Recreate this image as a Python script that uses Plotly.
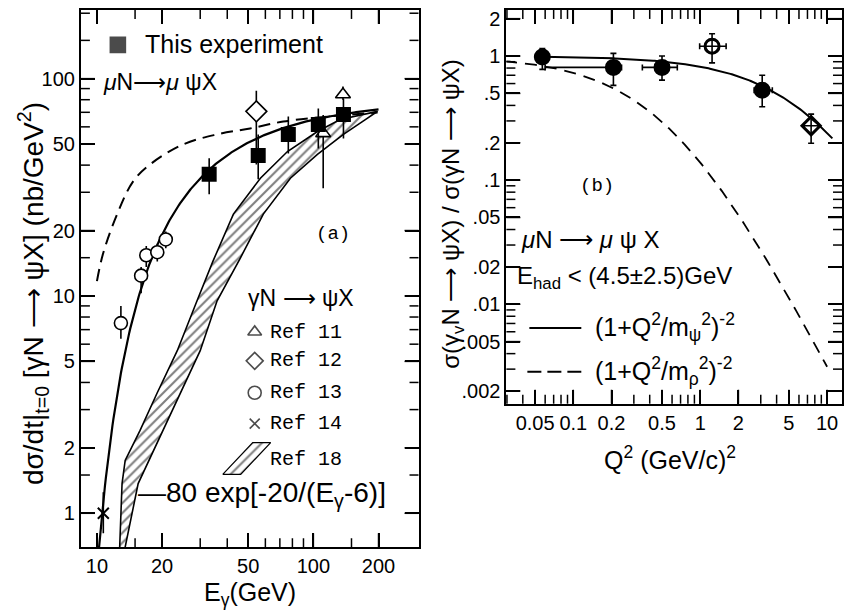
import numpy as np
import plotly.graph_objects as go

# ---------------- Panel (a): dsigma/dt|t=0 for gamma N -> psi X ----------------
e_this = [33.0, 55.6, 76.6, 105.4, 137.7]
xs_this = [36.3, 44.3, 55.4, 61.5, 68.4]
xs_this_hi = [43.0, 55.4, 67.0, 72.8, 80.9]
xs_this_lo = [29.4, 34.4, 45.3, 47.7, 53.1]

e_ref11 = [111.0, 137.0]
xs_ref11 = [56.0, 84.5]
xs_ref11_hi = [68.0, 92.0]
xs_ref11_lo = [31.3, 80.0]

e_ref12 = [54.5]
xs_ref12 = [70.7]
xs_ref12_hi = [88.0]
xs_ref12_lo = [40.3]

e_ref13 = [12.9, 16.0, 16.9, 19.0, 20.8]
xs_ref13 = [7.5, 12.4, 15.4, 15.9, 18.2]
xs_ref13_hi = [9.0, 13.6, 17.0, 17.4, 19.8]
xs_ref13_lo = [6.35, 10.3, 13.6, 14.4, 16.6]

e_ref14 = [10.7]
xs_ref14 = [1.0]
xs_ref14_hi = [1.25]
xs_ref14_lo = [0.81]

# Ref 18 band: upper and lower edges
band_up_e = [12.7, 13.06, 13.5, 15.8, 18.9, 23.5, 29.0, 34.4, 42.7, 56.9, 75.9, 104.4, 133.0, 198.0]
band_up_xs = [0.65, 1.37, 1.75, 2.40, 3.55, 5.6, 9.5, 14.5, 23.8, 34.8, 46.2, 57.1, 64.9, 70.7]
band_lo_e = [13.3, 15.5, 20.2, 30.0, 35.9, 45.9, 58.7, 78.3, 104.4, 137.7, 198.0]
band_lo_xs = [0.65, 1.37, 2.40, 5.6, 9.5, 14.9, 23.8, 34.8, 44.8, 55.4, 70.7]

# dashed model curve
dash_e = [10.0, 10.66, 12.4, 14.7, 17.6, 25.0, 35.9, 51.0, 72.6, 104.0, 198.0]
dash_xs = [11.7, 15.6, 23.8, 33.7, 40.3, 49.8, 55.4, 59.0, 63.5, 66.2, 69.8]

# fit: 80 exp[-20/(E - 6)]
fit_norm, fit_slope, fit_thr = 80.0, 20.0, 6.0
fit_e_min, fit_e_max = 10.15, 200.0

# ---------------- Panel (b): virtual / real photoproduction ratio ----------------
q2 = [0.057, 0.207, 0.50, 1.24, 3.08, 7.48]
q2_lo = [0.057, 0.06, 0.35, 0.99, 2.66, 6.6]
q2_hi = [0.057, 0.24, 0.66, 1.60, 3.70, 8.5]
ratio = [0.98, 0.81, 0.81, 1.20, 0.53, 0.274]
ratio_hi = [1.15, 1.05, 1.00, 1.51, 0.70, 0.34]
ratio_lo = [0.78, 0.58, 0.64, 0.88, 0.39, 0.198]
ratio_symbols = ["circle", "circle", "circle", "circle-open", "circle", "diamond-open"]

m_psi, m_rho = 3.097, 0.77
psi_q2_range = (0.057, 11.0)
rho_q2_range = (0.029, 10.0)

# tick definitions
a_x_major = [10, 20, 50, 100, 200]
a_x_minor = [15, 30, 40, 60, 70, 80, 90, 150]
a_y_major = [1, 2, 5, 10, 20, 50, 100]
a_y_minor = [1.5, 3, 4, 6, 7, 8, 9, 15, 30, 40, 60, 70, 80, 90, 150, 200]
b_x_major = [0.05, 0.1, 0.2, 0.5, 1, 2, 5, 10]
b_x_labels = ["0.05", "0.1", "0.2", "0.5", "1", "2", "5", "10"]
b_x_minor = [0.03, 0.04, 0.06, 0.07, 0.08, 0.09, 0.3, 0.4, 0.6, 0.7, 0.8, 0.9, 3, 4, 6, 7, 8, 9]
b_y_major = [0.002, 0.005, 0.01, 0.02, 0.05, 0.1, 0.2, 0.5, 1, 2]
b_y_labels = [".002", ".005", ".01", ".02", ".05", ".1", ".2", ".5", "1", "2"]
b_y_minor = [0.003, 0.004, 0.006, 0.007, 0.008, 0.009, 0.03, 0.04, 0.06, 0.07,
             0.08, 0.09, 0.3, 0.4, 0.6, 0.7, 0.8, 0.9]

W, H = 844, 616
SANS = "Liberation Sans, Arial, sans-serif"
MONO = "Liberation Mono, Courier New, monospace"
INK = "black"

# panel frames in pixels (left, right, top, bottom)
A_BOX = (81, 419, 8, 547)
B_BOX = (507, 843, 8, 403)
A_X_RANGE = [np.log10(8.43), np.log10(306)]
A_Y_RANGE = [np.log10(0.698), np.log10(207)]
B_X_RANGE = [np.log10(0.0297), np.log10(13.1)]
B_Y_RANGE = [np.log10(0.00158), np.log10(2.35)]
MAJOR_LEN, MINOR_LEN = 14, 9


def errs(val, hi, lo):
    return dict(type="data", symmetric=False,
                array=[h - v for v, h in zip(val, hi)],
                arrayminus=[v - l for v, l in zip(val, lo)])


fig = go.Figure()

# Ref 18 hatched band
band_x = band_up_e + band_lo_e[::-1]
band_y = band_up_xs + band_lo_xs[::-1]
fig.add_trace(go.Scatter(x=band_x, y=band_y, mode="lines", fill="toself",
                         fillcolor="white",
                         fillpattern=dict(shape="/", fgcolor=INK, bgcolor="white",
                                          size=7, solidity=0.3),
                         line=dict(color=INK, width=1.6), xaxis="x", yaxis="y"))

# dashed model
fig.add_trace(go.Scatter(x=dash_e, y=dash_xs, mode="lines", line_shape="spline",
                         line=dict(color=INK, width=2, dash="12px,7px"),
                         xaxis="x", yaxis="y"))

# 80 exp[-20/(E-6)]
fit_e = np.geomspace(fit_e_min, fit_e_max, 300)
fit_xs = fit_norm * np.exp(-fit_slope / (fit_e - fit_thr))
fig.add_trace(go.Scatter(x=fit_e, y=fit_xs, mode="lines",
                         line=dict(color=INK, width=2.2), xaxis="x", yaxis="y"))

# reference data sets
ebar = dict(color=INK, thickness=1.6, width=0)
fig.add_trace(go.Scatter(x=e_ref11, y=xs_ref11, mode="markers",
                         error_y={**errs(xs_ref11, xs_ref11_hi, xs_ref11_lo), **ebar},
                         marker=dict(symbol="triangle-up", size=13, color="white",
                                     line=dict(color=INK, width=1.6)),
                         xaxis="x", yaxis="y"))
fig.add_trace(go.Scatter(x=e_ref12, y=xs_ref12, mode="markers",
                         error_y={**errs(xs_ref12, xs_ref12_hi, xs_ref12_lo), **ebar},
                         marker=dict(symbol="diamond", size=16, color="white",
                                     line=dict(color=INK, width=1.6)),
                         xaxis="x", yaxis="y"))
fig.add_trace(go.Scatter(x=e_ref13, y=xs_ref13, mode="markers",
                         error_y={**errs(xs_ref13, xs_ref13_hi, xs_ref13_lo), **ebar},
                         marker=dict(symbol="circle", size=13, color="white",
                                     line=dict(color=INK, width=1.6)),
                         xaxis="x", yaxis="y"))
fig.add_trace(go.Scatter(x=e_ref14, y=xs_ref14, mode="markers",
                         error_y={**errs(xs_ref14, xs_ref14_hi, xs_ref14_lo), **ebar},
                         marker=dict(symbol="x-thin", size=11,
                                     line=dict(color=INK, width=2)),
                         xaxis="x", yaxis="y"))
fig.add_trace(go.Scatter(x=e_this, y=xs_this, mode="markers",
                         error_y={**errs(xs_this, xs_this_hi, xs_this_lo), **ebar},
                         marker=dict(symbol="square", size=15, color=INK),
                         xaxis="x", yaxis="y"))

# ---------------- panel (b) traces ----------------
q_psi = np.geomspace(*psi_q2_range, 200)
q_rho = np.geomspace(*rho_q2_range, 200)
fig.add_trace(go.Scatter(x=q_rho, y=(1 + q_rho / m_rho ** 2) ** -2, mode="lines",
                         line=dict(color=INK, width=1.8, dash="12px,8px"),
                         xaxis="x2", yaxis="y2"))
fig.add_trace(go.Scatter(x=q_psi, y=(1 + q_psi / m_psi ** 2) ** -2, mode="lines",
                         line=dict(color=INK, width=2), xaxis="x2", yaxis="y2"))
fig.add_trace(go.Scatter(x=q2, y=ratio, mode="markers",
                         error_y=dict(**errs(ratio, ratio_hi, ratio_lo), color=INK,
                                      thickness=1.6, width=3),
                         error_x=dict(**errs(q2, q2_hi, q2_lo), color=INK,
                                      thickness=1.6, width=3),
                         marker=dict(symbol=ratio_symbols, size=14, color=INK,
                                     line=dict(color=INK, width=3)),
                         xaxis="x2", yaxis="y2"))


# inward minor/major tick marks on all four sides of a frame, as paper-referenced
# line shapes placed along each panel's log scale
def tick_shapes(box, xrng, yrng, xvals, yvals, length):
    left, right, top, bottom = box
    out = []
    line = dict(color=INK, width=1.5)

    def fx(p):
        return p / W

    def fy(p):
        return 1 - p / H

    for v in xvals:
        p = float(left + (np.log10(v) - xrng[0]) / (xrng[1] - xrng[0]) * (right - left))
        for y0, y1 in ((bottom, bottom - length), (top, top + length)):
            out.append(dict(type="line", xref="paper", yref="paper", layer="above",
                            x0=fx(p), x1=fx(p), y0=fy(y0), y1=fy(y1), line=line))
    for v in yvals:
        p = float(bottom - (np.log10(v) - yrng[0]) / (yrng[1] - yrng[0]) * (bottom - top))
        for x0, x1 in ((left, left + length), (right - length, right)):
            out.append(dict(type="line", xref="paper", yref="paper", layer="above",
                            x0=fx(x0), x1=fx(x1), y0=fy(p), y1=fy(p), line=line))
    return out


shapes = (tick_shapes(A_BOX, A_X_RANGE, A_Y_RANGE, a_x_minor, a_y_minor, MINOR_LEN)
          + tick_shapes(B_BOX, B_X_RANGE, B_Y_RANGE, b_x_minor, b_y_minor, MINOR_LEN)
          + tick_shapes(A_BOX, A_X_RANGE, A_Y_RANGE, a_x_major, a_y_major, MAJOR_LEN)
          + tick_shapes(B_BOX, B_X_RANGE, B_Y_RANGE, b_x_major, b_y_major, MAJOR_LEN))

# ---------------- legend keys drawn on the pixel overlay ----------------
key_sym = ["square", "triangle-up-open", "diamond-open", "circle-open", "x-thin"]
key_x = [118, 255, 255, 255, 255]
key_y = [43, 331, 360, 392, 423]
key_size = [15, 12, 13, 13, 10]
fig.add_trace(go.Scatter(x=key_x, y=key_y, mode="markers",
                         marker=dict(symbol=key_sym, size=key_size, color=INK,
                                     line=dict(color=INK, width=1.6)),
                         xaxis="x3", yaxis="y3"))
# Ref 18 hatched key
fig.add_trace(go.Scatter(x=[223, 241, 271, 253, 223], y=[474, 474, 442, 442, 474],
                         mode="lines", fill="toself", fillcolor="white",
                         fillpattern=dict(shape="/", fgcolor=INK, bgcolor="white",
                                          size=7, solidity=0.3),
                         line=dict(color=INK, width=1.2), xaxis="x3", yaxis="y3"))
# solid / dashed keys in panel (b)
fig.add_trace(go.Scatter(x=[530, 582], y=[327, 327], mode="lines",
                         line=dict(color=INK, width=2), xaxis="x3", yaxis="y3"))
fig.add_trace(go.Scatter(x=[528, 582], y=[371, 371], mode="lines",
                         line=dict(color=INK, width=2, dash="14px,6px"),
                         xaxis="x3", yaxis="y3"))


def txt(x, y, s, size, family=SANS, xanchor="left", angle=0):
    return dict(x=x, y=y, xref="x3", yref="y3", text=s, showarrow=False,
                xanchor=xanchor, yanchor="middle", textangle=angle,
                font=dict(family=family, size=size, color=INK))


annotations = [
    txt(143, 42, "This experiment", 25),
    txt(101, 80, "<i>μ</i>N⟶<i>μ</i> ψX", 23),
    txt(333, 233, "(a)", 19, MONO, "center"),
    txt(246, 297, "γN ⟶ ψX", 23),
    txt(268, 332, "Ref 11", 20, MONO),
    txt(268, 360, "Ref 12", 20, MONO),
    txt(268, 392, "Ref 13", 20, MONO),
    txt(268, 423, "Ref 14", 20, MONO),
    txt(268, 459, "Ref 18", 20, MONO),
    txt(136, 494, "—80 exp[-20/(E<sub>γ</sub>-6)]", 28),
    txt(250, 594, "E<sub>γ</sub>(GeV)", 25, SANS, "center"),
    txt(33, 292, "dσ/dt|<sub>t=0</sub> [γN ⟶ ψX] (nb/GeV<sup>2</sup>)", 28, SANS,
        "center", -90),
    # panel (b)
    txt(598, 185, "(b)", 19, MONO, "center"),
    txt(520, 238, "<i>μ</i>N ⟶ <i>μ</i> ψ X", 24),
    txt(516, 276, "E<sub>had</sub> < (4.5±2.5)GeV", 24),
    txt(594, 326, "(1+Q<sup>2</sup>/m<sub>ψ</sub><sup>2</sup>)<sup>-2</sup>", 25),
    txt(594, 370, "(1+Q<sup>2</sup>/m<sub>ρ</sub><sup>2</sup>)<sup>-2</sup>", 25),
    txt(671, 457, "Q<sup>2</sup> (GeV/c)<sup>2</sup>", 25, SANS, "center"),
    txt(453, 212, "σ(γ<sub>v</sub>N ⟶ ψX) / σ(γN ⟶ ψX)", 24, SANS, "center", -90),
]


def log_axis(box, horizontal, rng, major, labels, anchor):
    left, right, top, bottom = box
    dom = [left / W, right / W] if horizontal else [1 - bottom / H, 1 - top / H]
    return dict(type="log", domain=dom, range=rng, anchor=anchor,
                tickmode="array", tickvals=major, ticktext=labels,
                ticks="inside", ticklen=MAJOR_LEN, tickwidth=1.5, tickcolor=INK,
                showline=True, linecolor=INK, linewidth=2, mirror="allticks",
                showgrid=False, zeroline=False, fixedrange=True,
                tickfont=dict(family=SANS, size=20, color=INK))


fig.update_layout(
    width=W, height=H, margin=dict(l=0, r=0, t=0, b=0),
    paper_bgcolor="white", plot_bgcolor="rgba(0,0,0,0)", showlegend=False,
    xaxis=log_axis(A_BOX, True, A_X_RANGE, a_x_major, [str(v) for v in a_x_major], "y"),
    yaxis=log_axis(A_BOX, False, A_Y_RANGE, a_y_major, [str(v) for v in a_y_major], "x"),
    xaxis2=log_axis(B_BOX, True, B_X_RANGE, b_x_major, b_x_labels, "y2"),
    yaxis2=log_axis(B_BOX, False, B_Y_RANGE, b_y_major, b_y_labels, "x2"),
    xaxis3=dict(domain=[0, 1], range=[0, W], visible=False, anchor="y3", fixedrange=True),
    yaxis3=dict(domain=[0, 1], range=[H, 0], visible=False, anchor="x3", fixedrange=True),
    annotations=annotations,
    shapes=shapes,
)

fig.write_html("out.html")
